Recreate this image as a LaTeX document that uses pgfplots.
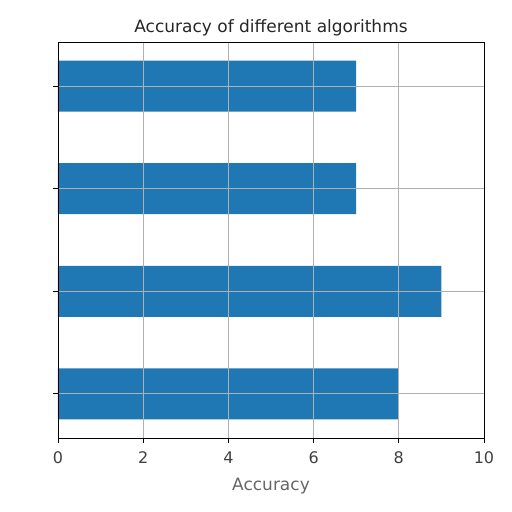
\documentclass[border=0pt]{standalone}
\usepackage{pgfplots}
\pgfplotsset{compat=1.18}
\usepackage{fontspec}
\setmainfont{DejaVu Sans}
\definecolor{mplblue}{HTML}{1F77B4}
\definecolor{gridgray}{HTML}{B0B0B0}
\begin{document}
\begin{tikzpicture}
\begin{axis}[
  scale only axis,
  width=426pt, height=396pt,
  xbar, bar width=51pt,
  xmin=0, xmax=10,
  ymin=-0.43, ymax=3.43,
  xtick={0,2,4,6,8,10},
  ytick={0,1,2,3},
  yticklabels={},
  tick align=outside,
  tick style={black, line width=0.8pt},
  major tick length=5pt,
  xtick pos=bottom, ytick pos=left,
  grid=major,
  grid style={gridgray, line width=0.8pt},
  axis on top,
  axis line style={black, line width=0.9pt},
  tick label style={font=\fontsize{16}{18}\selectfont, text=black!75},
  xticklabel style={yshift=-5pt},
  /pgf/number format/assume math mode=true,
  title={Accuracy of different algorithms},
  title style={font=\fontsize{17}{20}\selectfont, text=black!85, yshift=-4pt},
  xlabel={Accuracy},
  xlabel style={font=\fontsize{17}{20}\selectfont, text=black!60, yshift=-8pt},
]
\addplot+[fill=mplblue, draw=none] coordinates {
  (8,0) (9,1) (7,2) (7,3)
};
\end{axis}
\path (current axis.south west) ++(-58pt,-74pt) rectangle ([xshift=28pt,yshift=42pt]current axis.north east);
\end{tikzpicture}
\end{document}
